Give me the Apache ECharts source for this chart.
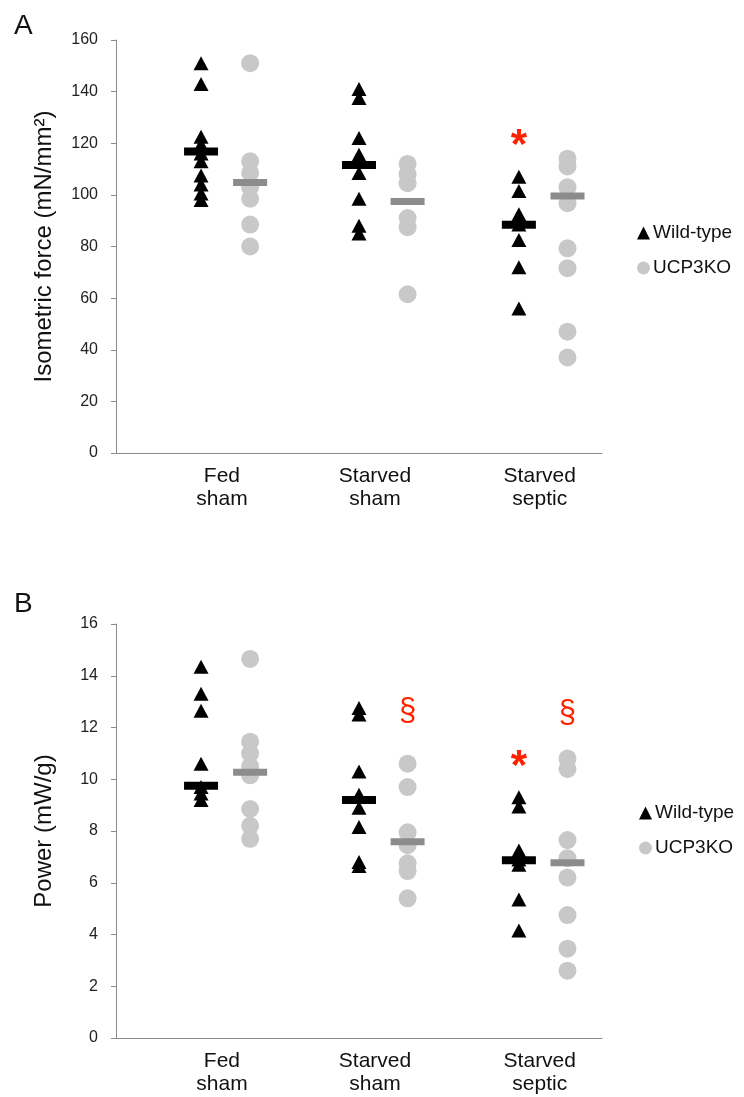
<!DOCTYPE html>
<html>
<head>
<meta charset="utf-8">
<script src="https://cdn.jsdelivr.net/npm/echarts@6/dist/echarts.min.js"></script>
<style>
  html, body { margin: 0; padding: 0; background: #fff; }
  #chart { width: 744px; height: 1097px; }
</style>
</head>
<body>
<div id="chart"></div>
<script>
// Group labels and their positions along the (hidden) numeric x scale
const groups = ['Fed\nsham', 'Starved\nsham', 'Starved\nseptic'];
const groupLabelPos = [2.18, 5.33, 8.72];
const wtPos = [1.75, 5.0, 8.29];
const koPos = [2.76, 6.0, 9.29];
const legendNames = ['Wild-type', 'UCP3KO'];

// Panel A: isometric force (mN/mm²), individual animals
const forceWT = [
  [151, 143, 122.5, 119.5, 116, 113, 107.5, 104, 100.5, 98],
  [141, 137.5, 122, 115.5, 108.5, 98.5, 88, 85],
  [107, 101.5, 92.5, 88.5, 82.5, 72, 56]
];
const forceKO = [
  [151, 113, 108.5, 103, 98.5, 88.5, 80],
  [112, 108, 104.5, 91, 87.5, 61.5],
  [114, 111, 103, 96.8, 79.3, 71.6, 47, 37]
];
const forceMeanWT = [116.8, 111.6, 88.4];
const forceMeanKO = [104.8, 97.4, 99.6];
const forceTicks = { min: 0, max: 160, interval: 20 };

// Panel B: power (mW/g), individual animals
const powerWT = [
  [14.35, 13.3, 12.65, 10.6, 9.7, 9.45, 9.2],
  [12.75, 12.5, 10.3, 9.4, 8.9, 8.15, 6.8, 6.65],
  [9.3, 8.95, 7.25, 6.9, 6.7, 5.35, 4.15]
];
const powerKO = [
  [14.65, 11.45, 11.0, 10.5, 10.15, 8.85, 8.2, 7.7],
  [10.6, 9.7, 7.95, 7.45, 6.75, 6.45, 5.4],
  [10.8, 10.4, 7.65, 6.95, 6.2, 4.75, 3.45, 2.6]
];
const powerMeanWT = [9.75, 9.2, 6.87];
const powerMeanKO = [10.27, 7.58, 6.77];
const powerTicks = { min: 0, max: 16, interval: 2 };

// Significance marks: [group index, genotype ('WT'|'KO'), y value, symbol]
const forceMarks = [[2, 'WT', 122.6, '*']];
const powerMarks = [[1, 'KO', 12.65, '§'], [2, 'WT', 10.85, '*'], [2, 'KO', 12.6, '§']];

const FONT = '"Liberation Sans", Arial, Helvetica, sans-serif';
const AXIS_GREY = '#8a8a8a';
const RED = '#ff2200';

function points(groupsVals, pos) {
  const out = [];
  groupsVals.forEach((vals, g) => vals.forEach(v => out.push([pos[g], v])));
  return out;
}
function means(vals, pos) { return vals.map((v, g) => [pos[g], v]); }
function marks(list) {
  return list.map(([g, geno, v, s]) => ({ name: s, value: [(geno === 'WT' ? wtPos : koPos)[g], v] }));
}

function panelSeries(idx, wt, ko, mWT, mKO, mk) {
  return [
    { name: 'Wild-type', type: 'scatter', xAxisIndex: idx, yAxisIndex: idx,
      symbol: 'triangle', symbolSize: [15, 14], itemStyle: { color: '#000', opacity: 1 },
      data: points(wt, wtPos), z: 3 },
    { name: 'UCP3KO', type: 'scatter', xAxisIndex: idx, yAxisIndex: idx,
      symbol: 'circle', symbolSize: 18, itemStyle: { color: '#c8c8c8', opacity: 1 },
      data: points(ko, koPos), z: 2 },
    { name: 'meanWT', type: 'scatter', xAxisIndex: idx, yAxisIndex: idx,
      symbol: 'rect', symbolSize: [34, 8], itemStyle: { color: '#000', opacity: 1 },
      data: means(mWT, wtPos), z: 4 },
    { name: 'meanKO', type: 'scatter', xAxisIndex: idx, yAxisIndex: idx,
      symbol: 'rect', symbolSize: [34, 7], itemStyle: { color: '#8c8c8c', opacity: 1 },
      data: means(mKO, koPos), z: 4 },
    { name: 'sig', type: 'scatter', xAxisIndex: idx, yAxisIndex: idx,
      symbol: 'circle', symbolSize: 1, itemStyle: { color: 'rgba(0,0,0,0)', opacity: 1 },
      label: {
        show: true, position: 'inside', formatter: '{b}', color: RED,
        fontFamily: FONT, opacity: 1
      },
      data: marks(mk).map(d => ({
        name: d.name, value: d.value,
        label: d.name === '*'
          ? { fontSize: 42, fontWeight: 'bold', offset: [0, 10] }
          : { fontSize: 31, offset: [0, 1] }
      })),
      z: 5 }
  ];
}

function xAxisDef(idx) {
  return {
    gridIndex: idx, type: 'value', min: 0, max: 10,
    axisLine: { show: true, lineStyle: { color: AXIS_GREY, width: 1 } },
    axisTick: { show: false },
    splitLine: { show: false },
    axisLabel: {
      customValues: groupLabelPos,
      formatter: v => {
        let best = 0;
        groupLabelPos.forEach((p, i) => { if (Math.abs(p - v) < Math.abs(groupLabelPos[best] - v)) best = i; });
        return groups[best];
      },
      margin: 12, fontSize: 21, lineHeight: 23, color: '#111', fontFamily: FONT
    }
  };
}

function yAxisDef(idx, ticks, name) {
  return {
    gridIndex: idx, type: 'value', min: ticks.min, max: ticks.max, interval: ticks.interval,
    name: name, nameLocation: 'middle', nameRotate: 90, nameGap: 60,
    nameTextStyle: { fontSize: 24, color: '#111', fontFamily: FONT },
    axisLine: { show: true, lineStyle: { color: AXIS_GREY, width: 1 } },
    axisTick: { show: true, inside: false, length: 5, lineStyle: { color: AXIS_GREY } },
    splitLine: { show: false },
    axisLabel: { fontSize: 16, color: '#222', margin: 18, fontFamily: FONT }
  };
}

function legendDef(top, left) {
  return {
    data: legendNames, orient: 'vertical', left: left, top: top,
    itemWidth: 13, itemHeight: 13, itemGap: 15,
    textStyle: { fontSize: 19, color: '#111', fontFamily: FONT, lineHeight: 20, padding: [0, 0, 0, -2] }
  };
}

const chart = echarts.init(document.getElementById('chart'), null, { renderer: 'canvas' });
chart.setOption({
  animation: false,
  backgroundColor: '#fff',
  textStyle: { fontFamily: FONT },
  title: [
    { text: 'A', left: 9, top: 7, textStyle: { fontSize: 28, fontWeight: 'normal', color: '#111', fontFamily: FONT } },
    { text: 'B', left: 9, top: 585, textStyle: { fontSize: 28, fontWeight: 'normal', color: '#111', fontFamily: FONT } }
  ],
  grid: [
    { left: 116, top: 40, width: 486, height: 413 },
    { left: 116, top: 624, width: 486, height: 414 }
  ],
  legend: [legendDef(218, 632), legendDef(798, 634)],
  xAxis: [xAxisDef(0), xAxisDef(1)],
  yAxis: [
    yAxisDef(0, forceTicks, 'Isometric force (mN/mm²)'),
    yAxisDef(1, powerTicks, 'Power (mW/g)')
  ],
  series: [
    ...panelSeries(0, forceWT, forceKO, forceMeanWT, forceMeanKO, forceMarks),
    ...panelSeries(1, powerWT, powerKO, powerMeanWT, powerMeanKO, powerMarks)
  ]
});
</script>
</body>
</html>
